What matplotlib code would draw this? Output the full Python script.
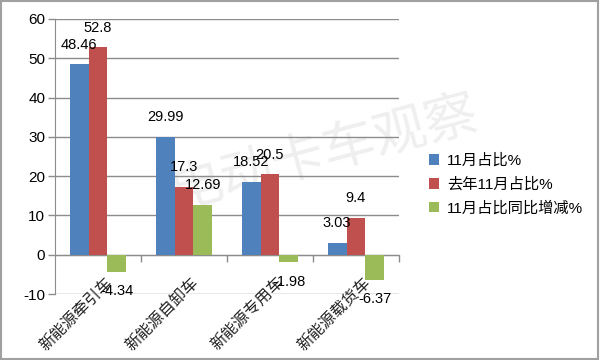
import numpy as np
import matplotlib
matplotlib.use('Agg')
import matplotlib.pyplot as plt
from matplotlib.patches import Rectangle

plt.rcParams['font.family'] = ['Liberation Sans', 'Noto Sans CJK SC', 'DejaVu Sans']
plt.rcParams['axes.unicode_minus'] = False

# data
categories = ['新能源牵引车', '新能源自卸车', '新能源专用车', '新能源载货车']
series_names = ['11月占比%', '去年11月占比%', '11月占比同比增减%']
share_nov = [48.46, 29.99, 18.52, 3.03]
share_last_year = [52.8, 17.3, 20.5, 9.4]
share_change = [-4.34, 12.69, -1.98, -6.37]
colors = ['#4F81BD', '#C0504D', '#9BBB59']
yticks = [-10, 0, 10, 20, 30, 40, 50, 60]

fig = plt.figure(figsize=(6, 3.6), dpi=100)
ax = fig.add_axes([55/600, 1-294/360, 344/600, 275/360])
ax.patch.set_alpha(0)

# watermark
fig.text(0.54, 0.575, '电动卡车观察', rotation=15, fontsize=38, color='#efefef',
         ha='center', va='center', family=['Noto Sans CJK SC'], zorder=-1)

x = np.arange(len(categories))
w = 0.22
for k, vals in enumerate([share_nov, share_last_year, share_change]):
    b = ax.bar(x + (k-1)*w, vals, w, color=colors[k], label=series_names[k], zorder=3)
    ax.bar_label(b, fmt='%g', padding=9, fontsize=10.5, zorder=4)

ax.set_xlim(-0.5, 3.5)
ax.set_ylim(-10, 60)
ax.set_yticks(yticks)
ax.tick_params(axis='y', length=5, width=1, color='#8c8c8c', labelsize=11, pad=2)
ax.grid(axis='y', color='#8c8c8c', linewidth=1.0, zorder=1)
ax.set_axisbelow(True)

for s in ['top', 'right']:
    ax.spines[s].set_visible(False)
ax.spines['left'].set_color('#8c8c8c')
ax.spines['bottom'].set_position(('data', 0))
ax.spines['bottom'].set_color('#8c8c8c')
ax.set_xticks([0.5, 1.5, 2.5, 3.5])
ax.set_xticklabels([])
ax.tick_params(axis='x', length=5, width=1, color='#8c8c8c')

for i, c in enumerate(categories):
    ax.text(i + 0.07, -5.0, c, rotation=45, ha='right', va='top', rotation_mode='anchor',
            fontsize=11.5, family=['Noto Sans CJK SC'], color='#222222')

leg = fig.legend(loc='upper left', bbox_to_anchor=(415/600, 1-140/360), frameon=False,
                 handlelength=0.7, handleheight=0.7, handletextpad=0.5,
                 labelspacing=0.6, prop={'family': ['Liberation Sans', 'Noto Sans CJK SC'], 'size': 11})

fig.patches.append(Rectangle((0.002, 0.003), 0.995, 0.994, transform=fig.transFigure,
                             fill=False, edgecolor='#a0a0a0', linewidth=1.5))

fig.savefig('out.png', dpi=100)
